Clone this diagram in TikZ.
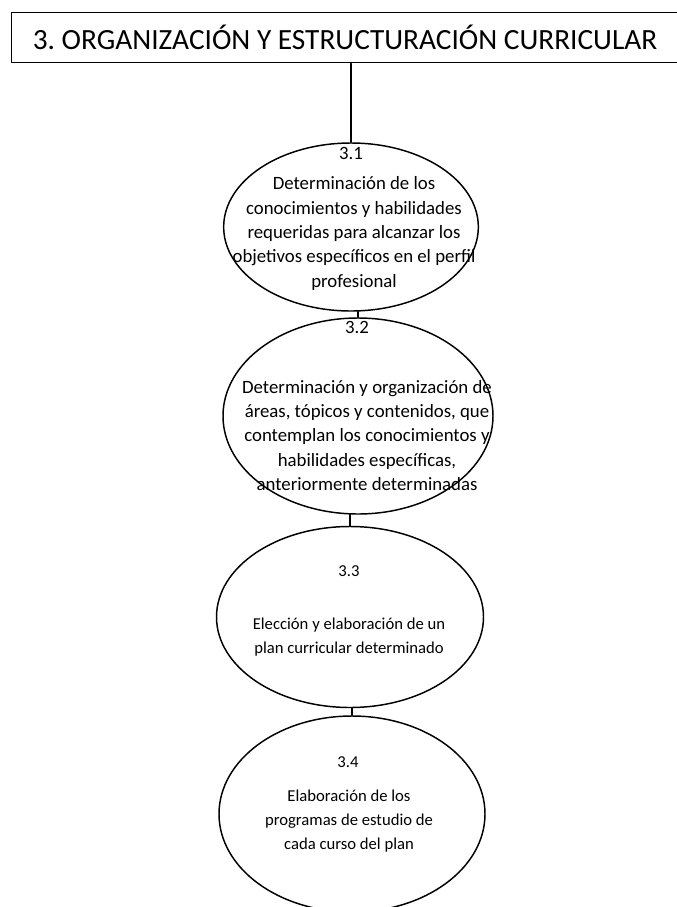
\documentclass[tikz,border=0pt]{standalone}
\usepackage{fontspec}
\setmainfont{Carlito}
\usetikzlibrary{shapes.geometric}
\usetikzlibrary{positioning}
\tikzstyle{every node}=[font=\fontsize{14.1}{18.3}\selectfont]
\tikzstyle{every path}=[line width=1.1pt,line cap=round,line join=round]
\tikzstyle{etapa}=[ellipse, draw, inner sep=0pt]
\tikzstyle{texto}=[align=center, inner sep=0pt]
\tikzstyle{chico}=[font=\fontsize{12.5}{18.3}\selectfont]

\begin{document}
\begin{tikzpicture}[x=0.75pt,y=-0.75pt]
  \useasboundingbox (0,0) rectangle (676,907);

  % titulo
  \node[draw, rectangle, anchor=north west, inner sep=0pt,
    minimum width=500pt, minimum height=37.5pt,
    font=\fontsize{22}{26}\selectfont] (titulo) at (11,12)
    {3.\ ORGANIZACIÓN Y ESTRUCTURACIÓN CURRICULAR};

  % etapas
  \node[etapa, minimum width=191pt, minimum height=126pt] (e1) at (351,227) {};
  \node[etapa, minimum width=202.5pt, minimum height=147pt] (e2) at (358,416) {};
  \node[etapa, minimum width=200.25pt, minimum height=135.75pt] (e3) at (350,617) {};
  \node[etapa, minimum width=199.5pt, minimum height=147pt] (e4) at (352,814) {};

  % textos
  \node[texto] (n1) at (351,153) {3.1};
  \node[texto] (t1) at (354,233.5) {Determinación de los\\
    conocimientos y habilidades\\
    requeridas para alcanzar los\\
    objetivos específicos en el perfil\\
    profesional};
  \node[texto] (n2) at (357,327) {3.2};
  \node[texto] (t2) at (367,435.5) {Determinación y organización de\\
    áreas, tópicos y contenidos, que\\
    contemplan los conocimientos y\\
    habilidades específicas,\\
    anteriormente determinadas};
  \node[texto, chico] (n3) at (349,571) {3.3};
  \node[texto, chico] (t3) at (349,637) {Elección y elaboración de un\\
    plan curricular determinado};
  \node[texto, chico] (n4) at (348,762) {3.4};
  \node[texto, chico] (t4) at (349,821) {Elaboración de los\\
    programas de estudio de\\
    cada curso del plan};

  % conectores
  \draw (titulo.south -| e1.north) -- (e1.north);
  \draw (e1.south -| e2.north) -- (e2.north);
  \draw (e2.south -| e3.north) -- (e3.north);
  \draw (e3.south -| e4.north) -- (e4.north);
\end{tikzpicture}
\end{document}
